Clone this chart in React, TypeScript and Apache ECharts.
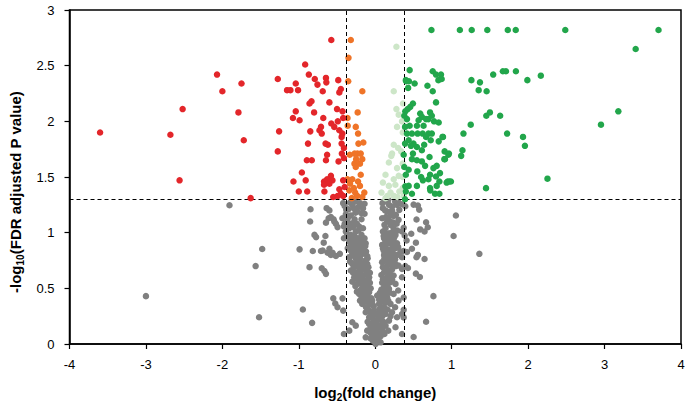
import React, { useEffect, useRef } from "react";
import * as echarts from "echarts";

// log2(fold change), -log10(FDR adjusted P value)
const xTickValues = [-4, -3, -2, -1, 0, 1, 2, 3, 4];
const yTickValues = [0, 0.5, 1, 1.5, 2, 2.5, 3];
const foldChangeCutoff = 0.38;
const pValueCutoff = 1.3;

const downRegulated: number[][] = [
  [-3.60, 1.90], [-2.68, 1.88], [-2.56, 1.47], [-2.52, 2.11], [-2.07, 2.42], [-2.00, 2.27], [-1.75, 2.34], [-1.79, 2.08], [-1.72, 1.83], [-1.63, 1.31],
  [-0.575, 2.73], [-0.917, 2.51], [-1.275, 2.38], [-0.869, 2.42], [-0.791, 2.38], [-0.645, 2.39], [-1.04, 2.34], [-0.756, 2.33], [-0.64, 2.35], [-0.484, 2.37],
  [-1.154, 2.28], [-1.11, 2.28], [-1.01, 2.28], [-0.687, 2.27], [-0.45, 2.29], [-0.47, 2.26], [-0.834, 2.18], [-0.86, 2.16], [-0.60, 2.17], [-0.50, 2.11],
  [-0.428, 2.09], [-1.04, 2.09], [-0.80, 2.08], [-1.077, 2.03], [-0.99, 2.01], [-0.68, 2.03], [-0.575, 1.98], [-0.49, 2.00], [-0.536, 1.95], [-0.71, 1.95],
  [-0.73, 1.92], [-1.258, 1.91], [-0.85, 1.91], [-0.47, 1.92], [-0.43, 1.89], [-0.70, 1.89], [-0.88, 1.80], [-0.65, 1.80], [-0.62, 1.79], [-0.44, 1.80],
  [-0.41, 1.76], [-1.275, 1.73], [-0.437, 1.71], [-0.63, 1.70], [-0.41, 1.67], [-0.895, 1.65], [-0.83, 1.65], [-0.645, 1.65], [-0.48, 1.64], [-0.96, 1.54],
  [-0.58, 1.51], [-1.07, 1.46], [-0.91, 1.47], [-0.67, 1.46], [-0.56, 1.47], [-0.67, 1.43], [-0.42, 1.47], [-1.0, 1.37], [-0.89, 1.37], [-0.665, 1.37],
  [-0.47, 1.39], [-0.49, 1.33], [-0.42, 1.33], [-0.63, 1.48], [-0.60, 1.44], [-0.40, 1.41], [-0.45, 1.35], [-0.44, 1.86], [-0.42, 2.03], [-0.55, 1.32],
];

const downSmall: number[][] = [
  [-0.32, 2.73], [-0.35, 2.57], [-0.354, 2.36], [-0.169, 2.27], [-0.363, 2.03], [-0.23, 2.08], [-0.255, 1.95], [-0.225, 1.89], [-0.156, 1.81], [-0.233, 1.71],
  [-0.333, 1.70], [-0.272, 1.62], [-0.20, 1.62], [-0.255, 1.59], [-0.363, 1.48], [-0.30, 1.48], [-0.225, 1.46], [-0.20, 1.42], [-0.34, 1.38], [-0.263, 1.36],
  [-0.143, 1.36], [-0.237, 1.33], [-0.169, 1.32], [-0.307, 1.31], [-0.27, 1.71], [-0.19, 1.71], [-0.17, 1.66], [-0.25, 1.66], [-0.36, 1.96], [-0.22, 1.80],
  [-0.33, 1.44], [-0.28, 1.40], [-0.19, 1.52],
];

const upSmall: number[][] = [
  [0.277, 2.67], [0.242, 2.27], [0.363, 2.16], [0.277, 2.11], [0.307, 2.06], [0.285, 1.95], [0.242, 1.79], [0.22, 1.71], [0.21, 1.69], [0.34, 1.73],
  [0.178, 1.63], [0.285, 1.58], [0.134, 1.52], [0.242, 1.48], [0.307, 1.51], [0.10, 1.45], [0.178, 1.42], [0.263, 1.43], [0.082, 1.36], [0.20, 1.36],
  [0.315, 1.37], [0.242, 1.33], [0.372, 1.33], [0.134, 1.31], [0.36, 1.90], [0.35, 2.00], [0.30, 1.76], [0.36, 1.62], [0.36, 1.50], [0.36, 1.40],
  [0.16, 1.33], [0.29, 1.32],
];

const upRegulated: number[][] = [
  [0.735, 2.82], [1.107, 2.82], [1.262, 2.82], [1.466, 2.82], [1.734, 2.82], [1.838, 2.82], [2.486, 2.82], [3.706, 2.82],
  [3.407, 2.65], [3.18, 2.09], [2.953, 1.97], [2.253, 1.485], [2.166, 2.41], [1.99, 2.37], [1.84, 2.45], [1.71, 2.45], [1.67, 2.45], [1.543, 2.42],
  [1.37, 2.35], [1.258, 2.37], [1.353, 2.28], [1.457, 2.27], [1.50, 2.08], [1.453, 2.05], [1.634, 2.05], [1.249, 1.97], [1.154, 1.89], [1.725, 1.89],
  [1.933, 1.86], [1.958, 1.78], [1.141, 1.74], [1.124, 1.69], [1.449, 1.40], [0.99, 1.46], [0.947, 1.46], [0.964, 1.71], [0.904, 1.66], [0.908, 1.73],
  [0.886, 1.86], [0.83, 1.82],
  [0.45, 2.46], [0.406, 2.36], [0.441, 2.36], [0.515, 2.34], [0.752, 2.45], [0.795, 2.42], [0.86, 2.42], [0.826, 2.37], [0.869, 2.38], [0.683, 2.32],
  [0.752, 2.27], [0.795, 2.17], [0.493, 2.16], [0.458, 2.13], [0.424, 2.11], [0.393, 2.09], [0.38, 2.05], [0.415, 2.02], [0.588, 2.07], [0.61, 2.04],
  [0.567, 2.01], [0.717, 2.08], [0.74, 2.05], [0.696, 2.02], [0.769, 2.0], [0.83, 1.99], [0.665, 2.02], [0.45, 1.96], [0.545, 1.96], [0.632, 1.96],
  [0.415, 1.89], [0.48, 1.89], [0.554, 1.89], [0.62, 1.89], [0.696, 1.89], [0.74, 1.89], [0.665, 1.86], [0.726, 1.83], [0.88, 1.86],
  [0.437, 1.83], [0.50, 1.80], [0.467, 1.78], [0.545, 1.77], [0.61, 1.74], [0.64, 1.79],
  [0.372, 1.70], [0.493, 1.71], [0.48, 1.66], [0.545, 1.65], [0.61, 1.64], [0.71, 1.68], [0.956, 1.70], [0.912, 1.66],
  [0.38, 1.59], [0.437, 1.565], [0.652, 1.60], [0.761, 1.58], [0.804, 1.60], [0.717, 1.52], [0.795, 1.505], [0.847, 1.535],
  [0.393, 1.416], [0.437, 1.42], [0.545, 1.42], [0.623, 1.47], [0.696, 1.48], [0.717, 1.40], [0.804, 1.42], [0.839, 1.46], [0.934, 1.45], [0.969, 1.46],
  [0.48, 1.35], [0.782, 1.35], [0.839, 1.35], [0.40, 1.37], [0.72, 1.38],
  [0.40, 2.37], [0.43, 2.30], [0.39, 1.95], [0.39, 1.80], [0.40, 1.52], [0.39, 1.30], [0.55, 1.55], [0.60, 1.50],
];

const notSignificant: number[][] = [
  [-3.0, 0.43], [-1.907, 1.246], [-1.479, 0.853], [-1.565, 0.70], [-1.52, 0.24], [-0.99, 0.85], [-0.947, 0.31], [-0.826, 0.19],
  [-0.847, 1.21], [-0.852, 1.10], [-0.795, 0.98], [-0.774, 0.96], [-0.674, 0.91], [-0.817, 0.835], [-0.86, 0.69], [-0.70, 0.68], [-0.665, 0.656],
  [-0.645, 1.09], [-0.536, 1.10], [-0.58, 1.14], [-0.558, 0.82], [-0.60, 0.856], [-0.71, 0.835],
  [-0.636, 1.22], [-0.60, 1.20], [-0.61, 1.13], [-0.545, 1.12], [-0.515, 1.08], [-0.493, 1.05], [-0.652, 0.97], [-0.687, 0.84], [-0.623, 0.82],
  [-0.58, 0.80], [-0.515, 0.79], [-0.463, 0.81], [-0.645, 0.63], [-0.549, 0.41], [-0.523, 0.364], [-0.493, 0.33], [-0.428, 0.41], [-0.419, 0.30],
  [1.055, 1.154], [1.025, 0.97], [1.362, 0.81], [0.761, 0.43], [0.665, 0.20], [0.502, 0.063], [0.54, 1.118], [0.665, 1.094], [0.687, 1.049],
  [0.645, 1.011], [0.588, 1.029], [0.471, 0.99], [0.532, 0.91], [0.48, 0.856], [0.415, 0.826], [0.372, 0.835], [0.558, 0.80], [0.54, 0.78],
  [0.645, 0.763], [0.393, 0.70], [0.428, 0.683], [0.532, 0.632], [0.584, 0.602], [0.372, 0.418], [0.372, 0.307], [0.372, 0.239], [0.393, 1.237],
  [0.502, 1.252], [0.558, 1.243], [0.575, 1.207], [0.372, 1.044], [0.385, 0.975],
  [-0.42, 1.265], [-0.38, 1.205], [-0.30, 1.25], [-0.255, 1.28], [-0.20, 1.265], [-0.16, 1.22], [-0.385, 1.165], [-0.32, 1.155], [-0.235, 1.19], [-0.18, 1.175],
  [0.095, 1.265], [0.17, 1.295], [0.22, 1.235], [0.285, 1.25], [0.315, 1.205], [0.155, 1.19], [0.20, 1.16], [0.35, 1.255],
  [-0.43, 1.13], [-0.365, 1.10], [-0.41, 1.055], [-0.34, 1.04], [-0.30, 1.085], [-0.385, 1.01], [-0.255, 1.01], [-0.32, 0.98], [-0.21, 1.055],
  [0.09, 1.13], [0.155, 1.10], [0.20, 1.07], [0.135, 1.04], [0.24, 1.04], [0.305, 1.115], [0.18, 0.995], [0.265, 0.98], [0.35, 1.01],
  [-0.34, 0.965], [-0.30, 0.935], [-0.255, 0.92], [-0.21, 0.95], [-0.32, 0.89], [-0.275, 0.86], [-0.235, 0.875], [-0.19, 0.845], [-0.17, 0.89],
  [-0.125, 0.905], [-0.30, 0.815], [-0.235, 0.80], [-0.145, 0.815], [-0.105, 0.79], [-0.34, 0.78], [-0.255, 0.765],
  [0.115, 0.95], [0.18, 0.92], [0.24, 0.935], [0.285, 0.905], [0.09, 0.89], [0.135, 0.86], [0.20, 0.845], [0.265, 0.86], [0.33, 0.83],
  [0.115, 0.80], [0.18, 0.78], [0.24, 0.79], [0.35, 0.78], [0.41, 0.93],
  [-0.30, 0.72], [-0.235, 0.735], [-0.17, 0.705], [-0.105, 0.72], [-0.32, 0.66], [-0.255, 0.645], [-0.19, 0.63], [-0.125, 0.66], [-0.275, 0.60],
  [-0.21, 0.585], [-0.145, 0.57], [-0.08, 0.60], [-0.235, 0.54], [-0.17, 0.51], [-0.105, 0.525],
  [0.09, 0.735], [0.155, 0.705], [0.22, 0.72], [0.305, 0.705], [0.35, 0.675], [0.115, 0.645], [0.18, 0.63], [0.24, 0.615], [0.135, 0.57],
  [0.20, 0.555], [0.265, 0.54], [0.115, 0.51], [0.18, 0.495], [0.35, 0.60],
  [-0.21, 0.45], [-0.145, 0.42], [-0.08, 0.465], [-0.17, 0.36], [-0.105, 0.33], [-0.04, 0.39], [0.025, 0.435], [0.09, 0.45], [0.155, 0.42],
  [0.05, 0.36], [0.115, 0.33], [0.20, 0.36], [-0.125, 0.285], [-0.02, 0.30], [0.07, 0.285], [0.135, 0.27], [0.22, 0.285], [0.305, 0.39], [0.35, 0.27],
  [-0.08, 0.24], [-0.02, 0.21], [0.025, 0.18], [0.07, 0.225], [0.115, 0.195], [-0.06, 0.15], [0.005, 0.12], [0.05, 0.09], [0.09, 0.135],
  [0.135, 0.165], [-0.02, 0.06], [0.025, 0.03], [0.005, 0.0], [0.07, 0.015], [-0.04, 0.09], [0.18, 0.21], [0.285, 0.24], [0.265, 0.15],
  [0.35, 0.09], [-0.255, 0.165], [-0.30, 0.195], [-0.34, 0.12], [-0.41, 0.09], [-0.105, 0.12], [-0.125, 0.06],
  [-0.33, 1.27], [-0.28, 1.22], [-0.22, 1.23], [-0.14, 1.26], [-0.36, 1.13], [-0.27, 1.12], [-0.24, 1.08], [-0.18, 1.12], [-0.29, 1.05],
  [-0.37, 0.99], [-0.27, 0.97], [-0.18, 0.98], [-0.14, 0.95], [-0.22, 0.91], [-0.29, 0.90], [-0.36, 0.86], [-0.20, 0.86], [-0.15, 0.86],
  [-0.12, 0.83], [-0.26, 0.83], [-0.20, 0.77], [-0.13, 0.75], [-0.28, 0.69], [-0.22, 0.69], [-0.15, 0.67], [-0.09, 0.69], [-0.24, 0.62],
  [-0.16, 0.61], [-0.11, 0.63], [-0.30, 0.56], [-0.19, 0.55], [-0.12, 0.55], [-0.07, 0.55], [-0.20, 0.48], [-0.13, 0.49], [-0.06, 0.50],
  [-0.18, 0.43], [-0.10, 0.44], [-0.05, 0.41], [-0.14, 0.38], [-0.07, 0.36], [-0.02, 0.34], [-0.09, 0.31], [-0.05, 0.27], [-0.10, 0.20],
  [-0.04, 0.19], [-0.06, 0.10], [-0.01, 0.16], [0.02, 0.12], [-0.03, 0.03], [0.04, 0.05], [0.00, 0.08], [0.03, 0.22], [0.02, 0.27],
  [0.05, 0.31], [0.09, 0.25], [0.10, 0.38], [0.07, 0.41], [0.14, 0.46], [0.17, 0.39], [0.12, 0.54], [0.17, 0.60], [0.22, 0.58], [0.10, 0.58],
  [0.16, 0.67], [0.22, 0.67], [0.10, 0.69], [0.27, 0.70], [0.14, 0.75], [0.20, 0.76], [0.26, 0.76], [0.11, 0.84], [0.17, 0.82], [0.23, 0.87],
  [0.30, 0.87], [0.15, 0.90], [0.21, 0.96], [0.14, 0.99], [0.10, 1.01], [0.22, 1.00], [0.29, 1.02], [0.12, 1.07], [0.24, 1.09], [0.17, 1.13],
  [0.27, 1.16], [0.13, 1.20], [0.22, 1.20], [0.26, 1.28], [0.12, 1.28], [0.30, 0.48], [0.24, 0.45], [0.26, 0.33], [0.16, 0.31], [0.20, 0.25],
  [0.12, 0.09], [0.17, 0.12], [0.08, 0.17],
  [-0.40, 1.24], [-0.35, 1.21], [-0.26, 1.18], [-0.14, 1.17], [-0.40, 1.08], [-0.33, 1.07], [-0.22, 1.02], [-0.16, 1.04], [-0.41, 0.95],
  [-0.30, 0.96], [-0.24, 0.95], [-0.17, 0.93], [-0.34, 0.92], [-0.26, 0.89], [-0.13, 0.88], [-0.32, 0.84], [-0.23, 0.84], [-0.17, 0.81],
  [-0.28, 0.79], [-0.10, 0.77], [-0.33, 0.74], [-0.24, 0.71], [-0.19, 0.73], [-0.13, 0.70], [-0.29, 0.64], [-0.20, 0.66], [-0.07, 0.64],
  [-0.23, 0.58], [-0.16, 0.58], [-0.09, 0.58], [-0.26, 0.52], [-0.15, 0.52], [-0.09, 0.50], [-0.24, 0.47], [-0.16, 0.46], [-0.12, 0.41],
  [-0.20, 0.39], [-0.09, 0.38], [-0.04, 0.36], [-0.12, 0.33], [-0.07, 0.29], [-0.03, 0.25], [-0.08, 0.18], [-0.02, 0.13], [-0.06, 0.05],
  [0.01, 0.04],
  [0.10, 1.22], [0.18, 1.25], [0.24, 1.15], [0.30, 1.28], [0.14, 1.14], [0.20, 1.10], [0.28, 1.08], [0.11, 0.97], [0.25, 0.96], [0.17, 0.96],
  [0.13, 0.93], [0.20, 0.90], [0.26, 0.89], [0.10, 0.86], [0.16, 0.85], [0.23, 0.82], [0.29, 0.80], [0.12, 0.77], [0.20, 0.72], [0.26, 0.72],
  [0.13, 0.68], [0.19, 0.65], [0.08, 0.62], [0.15, 0.60], [0.21, 0.61], [0.09, 0.55], [0.16, 0.53], [0.08, 0.49], [0.13, 0.49], [0.19, 0.46],
  [0.06, 0.46], [0.12, 0.41], [0.05, 0.40], [0.14, 0.37], [0.08, 0.33], [0.12, 0.29], [0.05, 0.27], [0.09, 0.21], [0.05, 0.15], [0.10, 0.11],
  [0.07, 0.07], [0.03, 0.09],
];

const FONT = "'Liberation Sans', Arial, Helvetica, sans-serif";

export default function App() {
  const ref = useRef<HTMLDivElement>(null);
  useEffect(() => {
    if (!ref.current) return;
    const chart = echarts.init(ref.current, null, { renderer: "svg" });
    const scatter = (name: string, data: number[][], color: string, z: number) => ({
      type: "scatter",
      name,
      data,
      symbol: "circle",
      symbolSize: 6.5,
      itemStyle: { color, opacity: 1 },
      z,
      silent: true,
    });
    const nameRich = {
      a: { fontFamily: FONT, fontSize: 15, fontWeight: "bold", color: "#000", lineHeight: 20 },
      s: { fontFamily: FONT, fontSize: 10, fontWeight: "bold", color: "#000", lineHeight: 11, verticalAlign: "bottom" },
    };
    chart.setOption({
      animation: false,
      backgroundColor: "#fff",
      grid: {
        left: 65,
        right: 8,
        top: 10,
        bottom: 62,
        show: true,
        borderColor: "#000",
        borderWidth: 1.5,
      },
      xAxis: {
        type: "value",
        min: xTickValues[0],
        max: xTickValues[xTickValues.length - 1],
        interval: 1,
        axisLine: { onZero: false, lineStyle: { color: "#000", width: 1.5 } },
        axisTick: { show: true, length: 5, lineStyle: { color: "#000", width: 1.2 } },
        axisLabel: { color: "#000", fontSize: 13, fontFamily: FONT, margin: 14 },
        splitLine: { show: false },
        name: "{a|log}{s|2}{a|(fold change)}",
        nameLocation: "middle",
        nameGap: 38,
        nameTextStyle: { rich: nameRich },
      },
      yAxis: {
        type: "value",
        min: yTickValues[0],
        max: yTickValues[yTickValues.length - 1],
        interval: 0.5,
        axisLine: { onZero: false, lineStyle: { color: "#000", width: 1.5 } },
        axisTick: { show: true, length: 5, lineStyle: { color: "#000", width: 1.2 } },
        axisLabel: { color: "#000", fontSize: 13, fontFamily: FONT, margin: 15 },
        splitLine: { show: false },
        name: "{a|-log}{s|10}{a|(FDR adjusted P value)}",
        nameLocation: "middle",
        nameRotate: 90,
        nameGap: 44,
        nameTextStyle: { rich: nameRich, padding: [0, 30, 0, 0] },
      },
      series: [
        scatter("not significant", notSignificant, "#808080", 2),
        scatter("up small", upSmall, "#cde6c8", 3),
        scatter("down small", downSmall, "#ef7428", 4),
        scatter("down", downRegulated, "#e3262a", 5),
        {
          ...scatter("up", upRegulated, "#22a64b", 6),
          markLine: {
            silent: true,
            symbol: "none",
            label: { show: false },
            lineStyle: { color: "#000", width: 1, type: [4, 3] },
            data: [
              { xAxis: -foldChangeCutoff },
              { xAxis: foldChangeCutoff },
              { yAxis: pValueCutoff },
            ],
          },
        },
      ],
    });
    return () => chart.dispose();
  }, []);
  return (
    <div
      ref={ref}
      style={{ position: "fixed", left: 0, top: 0, width: 689, height: 407, background: "#fff" }}
    />
  );
}
